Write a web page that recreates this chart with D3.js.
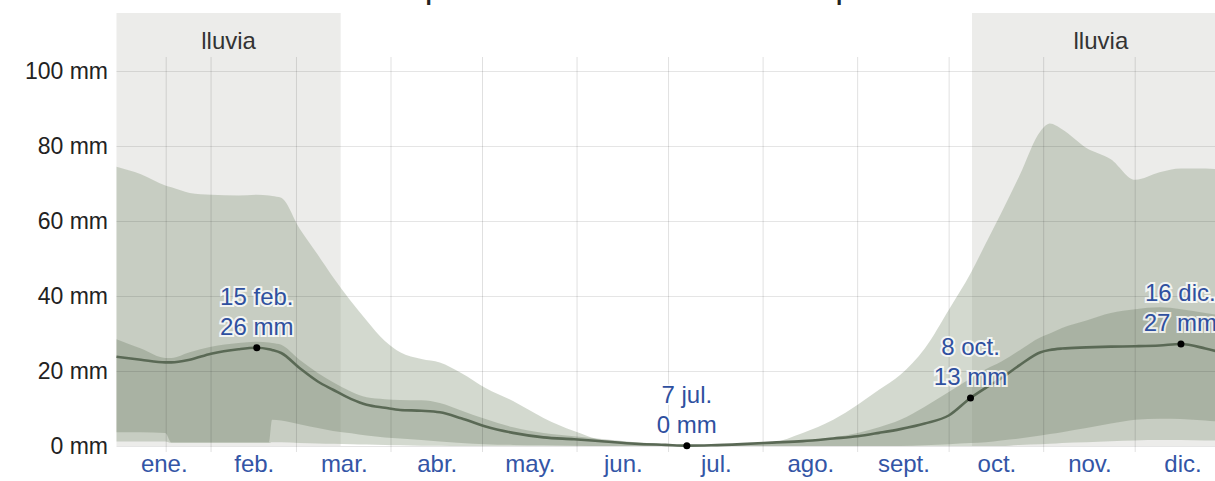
<!DOCTYPE html>
<html lang="es">
<head>
  <meta charset="UTF-8">
  <title>Lluvia mensual</title>
  <script src="https://cdn.jsdelivr.net/npm/d3@7"></script>
  <style>
    body { margin: 0; background: #fff; }
    svg { display: block; font-family: "Liberation Sans", Arial, sans-serif; }
  </style>
</head>
<body>
<div id="chart"></div>
<script>
// dia del año (0 = 1 ene.) y lluvia de 31 dias en mm
var days = [0,8,16,18,24,31,40,46,50,51,54,60,66,71,77,82,88,93,100,106,113,121,130,140,150,160,170,180,187,195,205,215,225,235,243,250,257,265,273,280,285,290,296,303,306,310,318,326,334,342,349,357,364];
var mean = [23.8,23.0,22.3,22.3,23.0,24.6,25.8,26.2,25.8,25.6,24.8,20.8,17.2,15.0,12.5,11.0,10.2,9.6,9.4,9.0,7.4,5.2,3.5,2.3,1.8,1.2,0.6,0.3,0.1,0.2,0.5,0.9,1.3,2.0,2.6,3.5,4.5,6.0,8.2,12.8,15.5,18.0,21.5,25.0,25.6,26.0,26.3,26.5,26.6,26.8,27.2,26.0,24.5];
var p90 = [74.5,72.5,69.5,69,67.5,67,66.8,67,66.8,66.7,66.2,58,51,45,38.5,33.5,28,25,23.2,22.3,19.5,15.5,12.0,7.5,4.0,1.5,1.0,0.5,0.3,0.3,0.5,1.0,3.5,7.0,11.0,15.0,19.0,26.0,36.5,46,54,62,72,84,86,84.5,79.5,76.5,71,73,74,74,73.5];
var p75 = [28.5,26,23.5,23.5,25,26.5,27.5,27.8,27.6,27.5,27,23,19.5,17,14.5,13,12.5,12.3,12.2,11.5,9.5,7.2,5.0,3.5,2.6,1.8,1.0,0.5,0.2,0.3,0.6,1.0,1.5,2.3,3.5,5.0,7.0,10.5,14.5,18,20.5,22.5,25.5,29,30,31.5,33.5,35.5,36.5,37,36.5,35.5,34.5];
var p25 = [3.7,3.7,3.5,1.0,1.0,1.0,1.0,1.0,1.0,7.0,6.8,5.8,4.8,4.0,3.4,2.8,2.3,2.0,1.6,1.2,0.8,0.5,0.3,0.2,0.1,0,0,0,0,0,0,0,0,0,0,0,0,0.2,0.5,0.8,1.0,1.5,2.0,2.8,3.2,3.7,4.8,6.0,7.0,7.3,7.2,6.8,6.3];
var p10 = [1.2,1.2,1.2,0.8,0.8,0.8,0.8,0.8,0.8,1.0,1.0,0.8,0.7,0.6,0.5,0.4,0.3,0.2,0.1,0.1,0,0,0,0,0,0,0,0,0,0,0,0,0,0,0,0,0,0,0,0,0,0,0.3,0.5,0.6,0.8,1.0,1.3,1.5,1.6,1.6,1.5,1.5];

var months = ["ene.","feb.","mar.","abr.","may.","jun.","jul.","ago.","sept.","oct.","nov.","dic."];
var monthStart = [0,31,59,90,120,151,181,212,243,273,304,334,365];
var extraLine = [16.3];
var yTicks = [0,20,40,60,80,100];

// temporada de lluvia
var wetFrom = [0, 280.5];
var wetTo = [73.5, 365];

// anotaciones
var markDays = [46,187,280,349];
var markDate = ["15 feb.","7 jul.","8 oct.","16 dic."];
var markVal = ["26 mm","0 mm","13 mm","27 mm"];

var width = 1215, height = 481;

var svg = d3.select("#chart").append("svg")
  .attr("width", width)
  .attr("height", height);

var x = d3.scaleLinear().domain([0, 365]).range([116.5, 116.5 + 365 * 3.05]);
var y = d3.scaleLinear().domain([0, 100]).range([446, 71]);

// titulo (cortado arriba)
svg.append("text")
  .attr("x", 345).attr("y", -2)
  .style("font-size", "35px").style("fill", "#222")
  .text("Precipitación de lluvia mensual promedio");

// bandas de lluvia
svg.selectAll("rect.wet")
  .data(wetFrom)
  .enter().append("rect")
    .attr("class", "wet")
    .attr("x", function(d) { return x(d); })
    .attr("y", 13)
    .attr("width", function(d, i) { return x(wetTo[i]) - x(d); })
    .attr("height", y(0) - 13)
    .style("fill", "#ececea");

svg.selectAll("text.wet")
  .data(wetFrom)
  .enter().append("text")
    .attr("class", "wet")
    .attr("x", function(d, i) { return (x(d) + x(wetTo[i])) / 2; })
    .attr("y", 49)
    .attr("text-anchor", "middle")
    .style("font-size", "24px").style("fill", "#333")
    .text("lluvia");

var rows = days.map(function(d, i) {
  return {d: d, m: mean[i], p10: p10[i], p25: p25[i], p75: p75[i], p90: p90[i]};
});

var areaOuter = d3.area().curve(d3.curveMonotoneX)
  .x(function(r) { return x(r.d); })
  .y0(function(r) { return y(r.p10); })
  .y1(function(r) { return y(r.p90); });
var areaInner = d3.area().curve(d3.curveMonotoneX)
  .x(function(r) { return x(r.d); })
  .y0(function(r) { return y(r.p25); })
  .y1(function(r) { return y(r.p75); });

svg.append("path").datum(rows).attr("d", areaOuter)
  .style("fill", "rgb(140,155,130)").style("fill-opacity", 0.38);
svg.append("path").datum(rows).attr("d", areaInner)
  .style("fill", "rgb(110,125,100)").style("fill-opacity", 0.33);

// rejilla
svg.append("g")
  .attr("transform", "translate(" + x(0) + ",0)")
  .call(d3.axisLeft(y).tickValues(yTicks).tickSize(-(width - x(0))).tickFormat(""))
  .call(function(g) { g.select(".domain").remove(); })
  .selectAll("line").style("stroke", "#000").style("stroke-opacity", 0.1);

svg.selectAll("line.vgrid")
  .data(monthStart.slice(1, 12).concat(extraLine))
  .enter().append("line")
    .attr("class", "vgrid")
    .attr("x1", function(d) { return x(d); })
    .attr("x2", function(d) { return x(d); })
    .attr("y1", 57).attr("y2", 452)
    .style("stroke", "#000").style("stroke-opacity", 0.12);

// linea media
var line = d3.line().curve(d3.curveMonotoneX)
  .x(function(r) { return x(r.d); })
  .y(function(r) { return y(r.m); });
svg.append("path").datum(rows).attr("d", line)
  .style("fill", "none").style("stroke", "#5a6955").style("stroke-width", 2.6);

// ejes
var yAxis = svg.append("g")
  .attr("transform", "translate(108,0)")
  .call(d3.axisLeft(y).tickValues(yTicks).tickSize(0).tickPadding(0)
    .tickFormat(function(d) { return d + " mm"; }));
yAxis.select(".domain").remove();
yAxis.selectAll("text")
  .style("font-size", "23px").style("fill", "#222")
  .style("font-family", "'Liberation Sans', Arial, sans-serif");

var mids = monthStart.slice(0, 12).map(function(d, i) { return (d + monthStart[i + 1]) / 2; });
var xAxis = svg.append("g")
  .attr("transform", "translate(0,455)")
  .call(d3.axisBottom(x).tickValues(mids).tickSize(0).tickPadding(0)
    .tickFormat(function(d, i) { return months[i]; }));
xAxis.select(".domain").remove();
xAxis.selectAll("text")
  .style("font-size", "24px").style("fill", "#3355a6")
  .style("font-family", "'Liberation Sans', Arial, sans-serif");

// puntos y etiquetas
markDays.forEach(function(d, i) {
  var v = mean[days.indexOf(d)];
  var cx = x(d), cy = y(v);
  svg.append("circle").attr("cx", cx).attr("cy", cy).attr("r", 3.5).style("fill", "#000");
  var g = svg.append("g");
  var t1 = g.append("text").attr("y", cy - 43).text(markDate[i]);
  var t2 = g.append("text").attr("y", cy - 13).text(markVal[i]);
  g.selectAll("text")
    .attr("text-anchor", "middle")
    .style("font-size", "24px").style("fill", "#2f509f")
    .style("stroke", "#fff").style("stroke-width", 4).style("stroke-opacity", 0.8)
    .style("paint-order", "stroke");
  var w = Math.max(t1.node().getComputedTextLength(), t2.node().getComputedTextLength());
  var lx = Math.min(cx, width - w / 2 + 2);
  g.selectAll("text").attr("x", lx);
});
</script>
</body>
</html>
